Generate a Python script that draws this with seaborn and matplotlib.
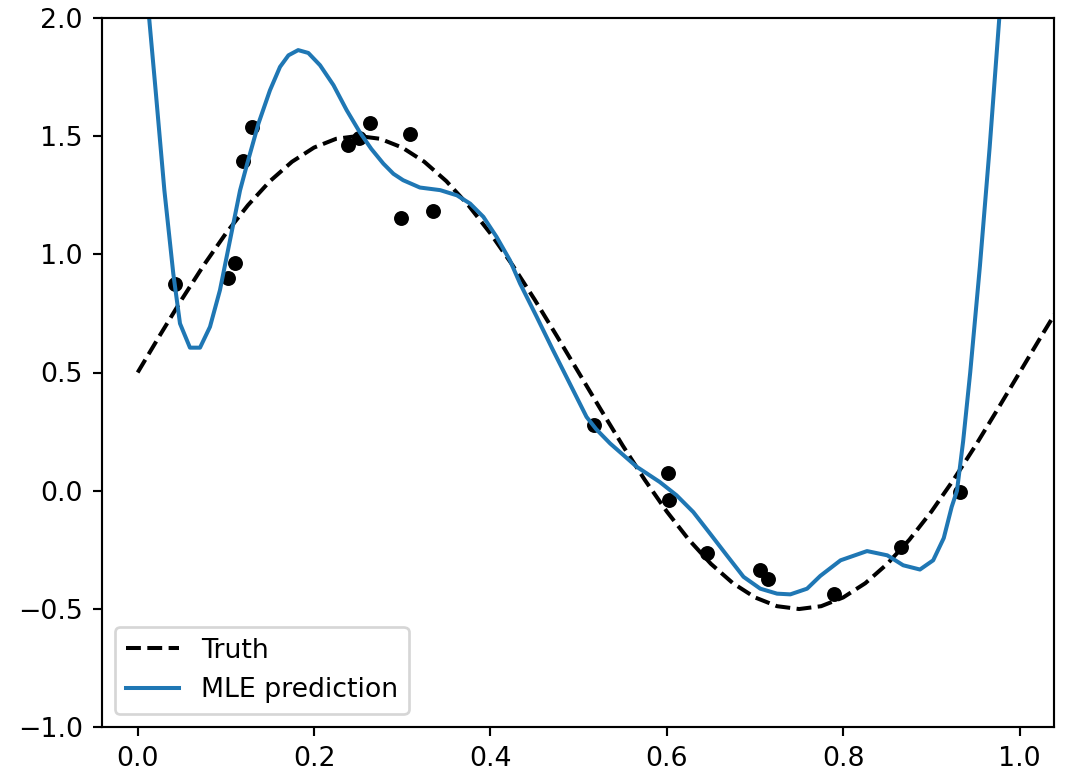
import matplotlib
matplotlib.use("Agg")
import matplotlib.pyplot as plt
import seaborn as sns
import numpy as np

# Observed data points
obs_x = [0.042, 0.102, 0.110, 0.119, 0.130, 0.239, 0.251, 0.263, 0.299, 0.309,
         0.335, 0.517, 0.601, 0.602, 0.645, 0.706, 0.715, 0.790, 0.865, 0.932]
obs_y = [0.876, 0.900, 0.961, 1.393, 1.538, 1.461, 1.490, 1.555, 1.155, 1.510,
         1.182, 0.277, 0.077, -0.040, -0.263, -0.333, -0.375, -0.435, -0.237, -0.007]

# Truth curve
truth_x = [0.0, 0.025, 0.05, 0.075, 0.1, 0.125, 0.15, 0.175, 0.2, 0.225, 0.25,
           0.275, 0.3, 0.325, 0.35, 0.375, 0.4, 0.425, 0.45, 0.475, 0.5, 0.525,
           0.55, 0.575, 0.6, 0.625, 0.65, 0.675, 0.7, 0.725, 0.75, 0.775, 0.8,
           0.825, 0.85, 0.875, 0.9, 0.925, 0.95, 0.975, 1.0, 1.025, 1.05]
truth_y = [0.5, 0.656, 0.809, 0.954, 1.088, 1.207, 1.309, 1.391, 1.451, 1.488, 1.5,
           1.488, 1.451, 1.391, 1.309, 1.207, 1.088, 0.954, 0.809, 0.656, 0.5, 0.344,
           0.191, 0.046, -0.088, -0.207, -0.309, -0.391, -0.451, -0.488, -0.5, -0.488, -0.451,
           -0.391, -0.309, -0.207, -0.088, 0.046, 0.191, 0.344, 0.5, 0.656, 0.809]

# MLE prediction curve
mle_x = [0.0, 0.0101, 0.0202, 0.0303, 0.0404, 0.048, 0.0593, 0.0707, 0.082, 0.0933,
         0.1047, 0.1161, 0.124, 0.137, 0.150, 0.1614, 0.171, 0.182, 0.1935, 0.2068,
         0.222, 0.237, 0.252, 0.265, 0.2786, 0.290, 0.301, 0.320, 0.343, 0.362,
         0.377, 0.392, 0.407, 0.422, 0.4336, 0.4525, 0.471, 0.490, 0.509, 0.520,
         0.5357, 0.566, 0.592, 0.611, 0.630, 0.649, 0.668, 0.687, 0.706, 0.725,
         0.740, 0.759, 0.774, 0.797, 0.827, 0.850, 0.868, 0.887, 0.902, 0.914,
         0.923, 0.929, 0.936, 0.944, 0.955, 0.966, 0.977, 0.990]
mle_y = [3.0, 2.12, 1.70, 1.27, 0.918, 0.707, 0.605, 0.605, 0.693, 0.848,
         1.059, 1.27, 1.38, 1.553, 1.693, 1.792, 1.841, 1.863, 1.851, 1.799,
         1.715, 1.609, 1.515, 1.445, 1.383, 1.340, 1.313, 1.282, 1.271, 1.249,
         1.214, 1.158, 1.073, 0.975, 0.876, 0.735, 0.594, 0.453, 0.312, 0.26,
         0.20, 0.101, 0.037, -0.019, -0.090, -0.181, -0.273, -0.364, -0.414, -0.435,
         -0.438, -0.414, -0.36, -0.294, -0.255, -0.273, -0.315, -0.333, -0.294, -0.20,
         -0.068, 0.0, 0.21, 0.50, 0.95, 1.45, 2.0, 2.8]

DPI = 193
fig = plt.figure(figsize=(1066 / DPI, 773 / DPI), dpi=DPI)
ax = fig.add_axes([101.5 / 1066, 1 - 727.3 / 773, (1054 - 101.5) / 1066, (727.3 - 17.7) / 773])

sns.scatterplot(x=obs_x, y=obs_y, ax=ax, color="k", s=31, linewidth=0, zorder=1)
sns.lineplot(x=truth_x, y=truth_y, ax=ax, color="k", linestyle="--", label="Truth",
             estimator=None, sort=False)
sns.lineplot(x=mle_x, y=mle_y, ax=ax, color="#1f77b4", label="MLE prediction",
             estimator=None, sort=False)

ax.set_xlim(-0.041, 1.039)
ax.set_ylim(-1.0, 2.0)
ax.set_xticks([0.0, 0.2, 0.4, 0.6, 0.8, 1.0])
ax.set_yticks([-1.0, -0.5, 0.0, 0.5, 1.0, 1.5, 2.0])
ax.legend(loc="lower left")

fig.savefig("out.png", dpi=DPI)
